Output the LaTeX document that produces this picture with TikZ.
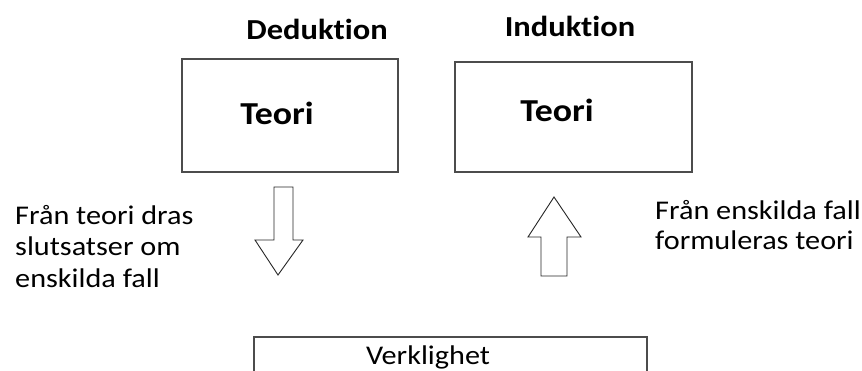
\documentclass[tikz,border=0pt]{standalone}
\usepackage{fontspec}
\setmainfont[FakeStretch=1.12,Ligatures=NoCommon]{Carlito}
\begin{document}
\begin{tikzpicture}[x=1pt,y=-1pt,
  box/.style={draw=black!70,line width=1.6pt},
  blockarrow/.style={draw=black!85,line width=0.9pt,line join=miter,fill=white},
  head/.style={font=\fontsize{29}{32}\selectfont\bfseries,inner sep=0pt,anchor=base},
  title/.style={font=\fontsize{32}{35}\selectfont\bfseries,inner sep=0pt,anchor=base},
  txt/.style={font=\fontsize{27}{30}\selectfont,inner sep=0pt,anchor=base west}]
\useasboundingbox[fill=white] (0,0) rectangle (862,371);
% boxes
\draw[box] (182,59) rectangle (398,172);
\draw[box] (455,62) rectangle (692,172);
\draw[box] (254,337) rectangle (647,380);
% headings
\node[head] (ded) at (317,40) {Deduktion};
\node[head] (ind) at (570,37) {Induktion};
\node[title] (t1) at (277,125) {Teori};
\node[title] (t2) at (557,122) {Teori};
\node[font=\fontsize{27}{30}\selectfont,inner sep=0pt,anchor=base] (ver) at (428,364) {Verklighet};
% left text
\node[txt] (l1) at (15,225) {Från teori dras};
\node[txt] (l2) at (15,256) {slutsatser om};
\node[txt] (l3) at (15,288) {enskilda fall};
% right text
\node[txt] (r1) at (655,220) {Från enskilda fall};
\node[txt] (r2) at (655,250) {formuleras teori};
% down arrow
\draw[blockarrow] (274,187) -- (293,187) -- (293,240) -- (303,240) -- (278,275) -- (255,240) -- (274,240) -- cycle;
% up arrow
\draw[blockarrow] (541,276) -- (567,276) -- (567,237) -- (581,237) -- (554,197) -- (528,237) -- (541,237) -- cycle;
\end{tikzpicture}
\end{document}
